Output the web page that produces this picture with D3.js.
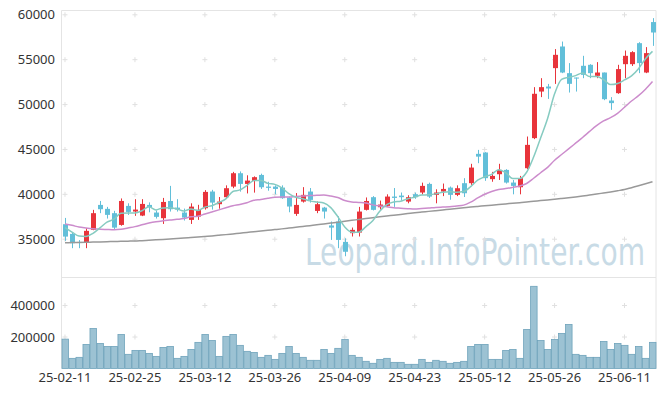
<!DOCTYPE html>
<html>
<head>
<meta charset="utf-8">
<script src="https://cdn.jsdelivr.net/npm/d3@7"></script>
<style>
  body { margin: 0; background: #fff; }
  svg { display: block; font-family: "Noto Sans", "Liberation Sans", sans-serif; }
</style>
</head>
<body>
<svg width="665" height="396"></svg>
<script>
// trading days shown (KRX)
var dates = [
  "2025-02-11","2025-02-12","2025-02-13","2025-02-14","2025-02-17","2025-02-18","2025-02-19","2025-02-20","2025-02-21","2025-02-24",
  "2025-02-25","2025-02-26","2025-02-27","2025-02-28","2025-03-04","2025-03-05","2025-03-06","2025-03-07","2025-03-10","2025-03-11",
  "2025-03-12","2025-03-13","2025-03-14","2025-03-17","2025-03-18","2025-03-19","2025-03-20","2025-03-21","2025-03-24","2025-03-25",
  "2025-03-26","2025-03-27","2025-03-28","2025-03-31","2025-04-01","2025-04-02","2025-04-03","2025-04-04","2025-04-07","2025-04-08",
  "2025-04-09","2025-04-10","2025-04-11","2025-04-14","2025-04-15","2025-04-16","2025-04-17","2025-04-18","2025-04-21","2025-04-22",
  "2025-04-23","2025-04-24","2025-04-25","2025-04-28","2025-04-29","2025-04-30","2025-05-02","2025-05-07","2025-05-08","2025-05-09",
  "2025-05-12","2025-05-13","2025-05-14","2025-05-15","2025-05-16","2025-05-19","2025-05-20","2025-05-21","2025-05-22","2025-05-23",
  "2025-05-26","2025-05-27","2025-05-28","2025-05-29","2025-05-30","2025-06-02","2025-06-04","2025-06-05","2025-06-09","2025-06-10",
  "2025-06-11","2025-06-12","2025-06-13","2025-06-16","2025-06-17"
];

var open = [
  36670,35590,34700,34670,36040,38820,38380,37900,36590,38710,
  38080,37630,38820,37970,37340,39260,38520,37970,37150,37520,
  38450,40310,38900,39680,40860,42350,41160,41500,42160,40860,
  40860,40750,39640,37820,39190,40310,38150,38520,36530,36970,
  34700,35670,35740,38270,39680,38560,38710,39750,39860,39190,
  40010,40200,41160,39940,40310,40750,39940,41240,41240,44510,
  44660,41690,42240,42720,41310,40790,42910,46260,51450,52010,
  54060,56470,53500,53010,54320,54430,53200,53570,50450,51270,
  54500,54500,56840,53570,59190
];
var high = [
  37370,35700,34900,36220,38270,39260,38600,38160,39540,39000,
  39460,39460,39100,38200,39600,40940,39460,38410,39000,38830,
  40470,40500,39700,41000,42500,42550,42120,42000,42300,41400,
  41000,41000,39750,40140,40800,40700,39200,38600,36970,37560,
  35100,36300,38600,39650,39800,39300,40000,40700,40200,39900,
  40200,41300,41300,40560,41200,40870,41000,41800,43400,44950,
  44700,42500,43400,42800,41600,42050,46440,51940,52940,52300,
  56180,57020,54620,53010,55430,54500,54730,53570,50830,54430,
  56020,55950,56950,56400,59630
];
var low = [
  34810,34000,34000,34000,36000,37900,37300,36080,36500,37700,
  37600,37570,38000,37300,36700,38080,38080,37080,36700,37150,
  38300,38300,38400,39500,40680,40300,40100,40190,40600,40400,
  40000,39500,38000,37600,39080,39080,37900,37300,34920,34000,
  33100,35300,35300,38200,38200,38300,38600,38600,39300,39000,
  39500,39980,39600,39000,39800,39400,39800,39700,41050,43470,
  41500,41400,41600,41200,40000,40000,42800,46150,50830,50630,
  52300,53500,51340,51450,52940,52940,52940,50490,49410,51200,
  52940,54300,53500,53500,56540
];
var close = [
  35290,34550,34600,35930,37900,38340,37710,36290,39260,38040,
  38300,38930,38560,37490,39150,38340,38300,37410,38630,38270,
  40270,39080,39190,40680,42350,41160,41530,41910,40790,40720,
  40600,39570,38640,38820,39940,39380,38900,38080,36290,34920,
  33600,36040,38080,39260,38270,38860,39750,39600,39680,39680,
  39680,40940,39750,40200,40600,39940,40680,40120,42980,44200,
  41800,42050,42720,41310,40940,41800,45510,51200,51940,51790,
  55540,53570,52310,52900,53310,53500,53570,50600,50160,53950,
  55430,55840,54620,55730,58030
];
var volume = [
  186700,64500,70900,153000,254000,159000,140000,140000,216000,90000,
  115000,115000,96000,77000,134000,140000,64500,77000,121000,166000,
  216000,178000,77000,204000,216000,147000,109000,102000,70900,83500,
  58000,96000,140000,96000,70900,52000,52000,121000,96000,128000,
  185000,83500,70900,45600,33000,58000,64500,39000,39000,26600,
  26600,58000,39000,52000,45600,33000,39000,45600,140000,153000,
  153000,58000,58000,115000,121000,64500,248000,522000,178000,121000,
  185000,223000,280000,90000,83500,70900,70900,172000,121000,159000,
  147000,90000,140000,64500,166000
];

// moving-average values before enough visible closes exist
var ma5Head = [36300,35800,35350,35300];
var ma20Head = [
  36700,36550,36350,36250,36170,36120,36080,36050,36100,36250,
  36400,36600,36800,36950,37050,37130,37210,37300,37500
];
// long moving average (grey)
var ma120 = [
  34600,34620,34640,34660,34680,34700,34720,34740,34760,34780,
  34800,34840,34880,34930,34980,35030,35080,35130,35190,35250,
  35310,35370,35440,35510,35590,35670,35750,35830,35910,35990,
  36070,36150,36240,36330,36420,36510,36600,36700,36800,36900,
  37000,37100,37200,37300,37400,37490,37580,37670,37760,37850,
  37940,38020,38100,38180,38260,38340,38420,38500,38580,38650,
  38720,38790,38860,38930,39000,39070,39140,39220,39300,39380,
  39460,39540,39620,39710,39810,39920,40030,40150,40270,40400,
  40530,40740,40950,41170,41400
];

var priceTicks = [35000,40000,45000,50000,55000,60000];
var volTicks = [200000,400000];

function movingAvg(n, head) {
  return close.map(function(c, i) {
    if (i < n - 1) return head[i];
    return d3.mean(close.slice(i - n + 1, i + 1));
  });
}
var ma5 = movingAvg(5, ma5Head);
var ma20 = movingAvg(20, ma20Head);

var svg = d3.select('svg');
var left = 61.5, right = 656;
var priceTop = 10.5, priceBottom = 276;
var volTop = 277.5, volBottom = 368.5;

var x = d3.scaleBand().domain(dates).range([left, right]).padding(0);
var bw = x.bandwidth();
var cx = function(i) { return x(dates[i]) + bw / 2; };

var y = d3.scaleLinear().domain([30900, 60480]).range([priceBottom, priceTop]);
var yv = d3.scaleLinear().domain([0, 578000]).range([volBottom, volTop]);

var fmt = d3.timeFormat('%y-%m-%d');
var parse = d3.timeParse('%Y-%m-%d');

// frame
var frame = svg.append('g').attr('stroke', '#e4e4e4').attr('fill', 'none');
frame.append('line').attr('x1', left).attr('x2', left).attr('y1', priceTop).attr('y2', volBottom);
frame.append('line').attr('x1', left).attr('x2', right).attr('y1', priceTop).attr('y2', priceTop);
frame.append('line').attr('x1', left).attr('x2', right).attr('y1', volTop).attr('y2', volTop);
frame.append('line').attr('x1', right).attr('x2', right).attr('y1', priceTop).attr('y2', volBottom);

// watermark
svg.append('text')
  .attr('x', 305).attr('y', 265)
  .attr('font-size', 38)
  .attr('font-family', '"Liberation Sans Narrow", "DejaVu Sans Condensed", sans-serif')
  .attr('textLength', 340)
  .attr('lengthAdjust', 'spacingAndGlyphs')
  .attr('fill', '#c8dbe6')
  .text('Leopard.InfoPointer.com');

// grid crosses at tick intersections
var xTickIdx = d3.range(0, dates.length, 10);
var crosses = [];
xTickIdx.forEach(function(i) {
  priceTicks.forEach(function(p) { crosses.push([cx(i), y(p)]); });
  volTicks.forEach(function(v) { crosses.push([cx(i), yv(v)]); });
});
var cg = svg.append('g').attr('stroke', '#e0e0e0').attr('stroke-width', 1);
crosses.forEach(function(c) {
  cg.append('line').attr('x1', c[0] - 2.5).attr('x2', c[0] + 2.5).attr('y1', c[1]).attr('y2', c[1]);
  cg.append('line').attr('x1', c[0]).attr('x2', c[0]).attr('y1', c[1] - 2.5).attr('y2', c[1] + 2.5);
});

// axes
var yAxis = svg.append('g').attr('transform', 'translate(58,0)')
  .call(d3.axisLeft(y).tickValues(priceTicks).tickSize(0).tickPadding(3).tickFormat(d3.format('d')));
var vAxis = svg.append('g').attr('transform', 'translate(58,0)')
  .call(d3.axisLeft(yv).tickValues(volTicks).tickSize(0).tickPadding(3).tickFormat(d3.format('d')));
var xAxis = svg.append('g').attr('transform', 'translate(0,' + (volBottom - 1) + ')')
  .call(d3.axisBottom(x).tickValues(xTickIdx.map(function(i) { return dates[i]; }))
    .tickSize(0).tickPadding(5).tickFormat(function(d) { return fmt(parse(d)); }));
[yAxis, vAxis, xAxis].forEach(function(a) {
  a.select('.domain').remove();
  a.selectAll('text').attr('font-size', 13).attr('fill', '#333')
    .attr('font-family', '"Noto Sans", "Liberation Sans", sans-serif');
});

// volume bars
svg.append('g').selectAll('rect')
  .data(volume)
  .enter().append('rect')
  .attr('x', function(d, i) { return x(dates[i]) + 0.5; })
  .attr('y', function(d) { return yv(d); })
  .attr('width', bw - 0.5)
  .attr('height', function(d) { return yv(0) - yv(d); })
  .attr('fill', '#9cc2d3')
  .attr('stroke', '#6fa3bb')
  .attr('stroke-width', 0.8);

// candles
var up = '#e8343b', down = '#62bfd9';
var candles = svg.append('g').selectAll('g')
  .data(dates)
  .enter().append('g');
candles.append('line')
  .attr('x1', function(d, i) { return Math.round(cx(i)) + 0.5; })
  .attr('x2', function(d, i) { return Math.round(cx(i)) + 0.5; })
  .attr('y1', function(d, i) { return y(high[i]); })
  .attr('y2', function(d, i) { return y(low[i]); })
  .attr('stroke', function(d, i) { return close[i] >= open[i] ? up : down; });
candles.append('rect')
  .attr('x', function(d, i) { return Math.round(cx(i)) + 0.5 - 2.5; })
  .attr('width', 5)
  .attr('y', function(d, i) { return y(Math.max(open[i], close[i])); })
  .attr('height', function(d, i) { return Math.max(1, Math.abs(y(open[i]) - y(close[i]))); })
  .attr('fill', function(d, i) { return close[i] >= open[i] ? up : down; });

// moving averages
var line = d3.line()
  .x(function(d, i) { return cx(i); })
  .y(function(d) { return y(d); })
  .curve(d3.curveMonotoneX);
svg.append('path').datum(ma120).attr('d', line)
  .attr('fill', 'none').attr('stroke', '#999').attr('stroke-width', 1.5);
svg.append('path').datum(ma20).attr('d', line)
  .attr('fill', 'none').attr('stroke', '#cc8ccc').attr('stroke-width', 1.5);
svg.append('path').datum(ma5).attr('d', line)
  .attr('fill', 'none').attr('stroke', '#86cbc1').attr('stroke-width', 1.5);
</script>
</body>
</html>
